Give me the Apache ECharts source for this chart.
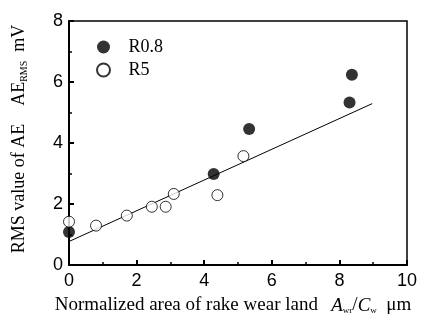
<!DOCTYPE html>
<html><head><meta charset="utf-8">
<script src="https://cdn.jsdelivr.net/npm/echarts@6/dist/echarts.min.js"></script>
<style>html,body{margin:0;padding:0;background:#fff}#c{width:426px;height:320px}</style>
</head><body><div id="c"></div>
<script>
// Data
const r08X = [0, 4.28, 5.33, 8.3, 8.37];
const r08Y = [1.08, 2.98, 4.46, 5.33, 6.24];
const r5X = [0, 0.8, 1.71, 2.45, 2.86, 3.1, 4.39, 5.16];
const r5Y = [1.42, 1.29, 1.62, 1.91, 1.91, 2.33, 2.29, 3.57];
const fitX = [0, 8.97];
const fitY = [0.77, 5.29];
const xTicks = [0, 2, 4, 6, 8, 10];
const yTicks = [0, 2, 4, 6, 8];

const pairs = (xs, ys) => xs.map((x, i) => [x, ys[i]]);
const chart = echarts.init(document.getElementById('c'));
const serif = 'Liberation Serif';
const sans = 'Liberation Sans';
chart.setOption({
  animation: false,
  backgroundColor: '#fff',
  grid: {left: 69, right: 19, top: 21, bottom: 53, show: true, borderColor: '#000', borderWidth: 1.5},
  legend: {
    orient: 'vertical', left: 91, top: 33, itemGap: 5, itemWidth: 14, itemHeight: 13,
    textStyle: {fontFamily: serif, fontSize: 18, color: '#000', padding: [0, 0, 0, 13]},
    data: ['R0.8', 'R5']
  },
  xAxis: {
    type: 'value', min: xTicks[0], max: xTicks[xTicks.length - 1], interval: 2,
    axisLine: {show: true, lineStyle: {color: '#000', width: 2}},
    axisTick: {show: true, inside: true, length: 5, lineStyle: {color: '#000', width: 2}},
    minorTick: {show: true, splitNumber: 2, length: 3, lineStyle: {color: '#000', width: 1.5}},
    splitLine: {show: false},
    axisLabel: {fontFamily: sans, fontSize: 18, color: '#000', margin: 7},
    name: '{n|Normalized area of rake wear land}    {i|A}{s|wr}{n|/}{i|C}{s|w}{n|  μm}',
    nameLocation: 'middle', nameGap: 31,
    nameTextStyle: {
      padding: [0, 0, 0, -10],
      rich: {
        n: {fontFamily: serif, fontSize: 19, color: '#000'},
        i: {fontFamily: serif, fontSize: 19, fontStyle: 'italic', color: '#000'},
        s: {fontFamily: serif, fontSize: 9, color: '#000', verticalAlign: 'bottom', padding: [10, 0, 0, 0]}
      }
    }
  },
  yAxis: {
    type: 'value', min: yTicks[0], max: yTicks[yTicks.length - 1], interval: 2,
    axisLine: {show: true, lineStyle: {color: '#000', width: 2}},
    axisTick: {show: true, inside: true, length: 5, lineStyle: {color: '#000', width: 2}},
    minorTick: {show: true, splitNumber: 2, length: 3, lineStyle: {color: '#000', width: 1.5}},
    splitLine: {show: false},
    axisLabel: {fontFamily: sans, fontSize: 18, color: '#000', margin: 6},
    name: '{n|RMS value of AE    AE}{s|RMS}{n|  mV}',
    nameLocation: 'middle', nameGap: 40,
    nameTextStyle: {
      padding: [0, 0, 0, 8],
      rich: {
        n: {fontFamily: serif, fontSize: 18, color: '#000'},
        s: {fontFamily: serif, fontSize: 10, color: '#000', verticalAlign: 'bottom', padding: [9, 0, 0, 0]}
      }
    }
  },
  series: [
    {type: 'line', data: pairs(fitX, fitY), symbol: 'none', lineStyle: {color: '#000', width: 1}, silent: true, z: 1},
    {name: 'R0.8', type: 'scatter', data: pairs(r08X, r08Y), symbol: 'circle', symbolSize: 12,
     itemStyle: {color: '#000'}, z: 3},
    {name: 'R5', type: 'scatter', data: pairs(r5X, r5Y), symbol: 'circle', symbolSize: 11,
     itemStyle: {color: '#fff', borderColor: '#000', borderWidth: 1}, z: 3}
  ]
});
</script></body></html>
